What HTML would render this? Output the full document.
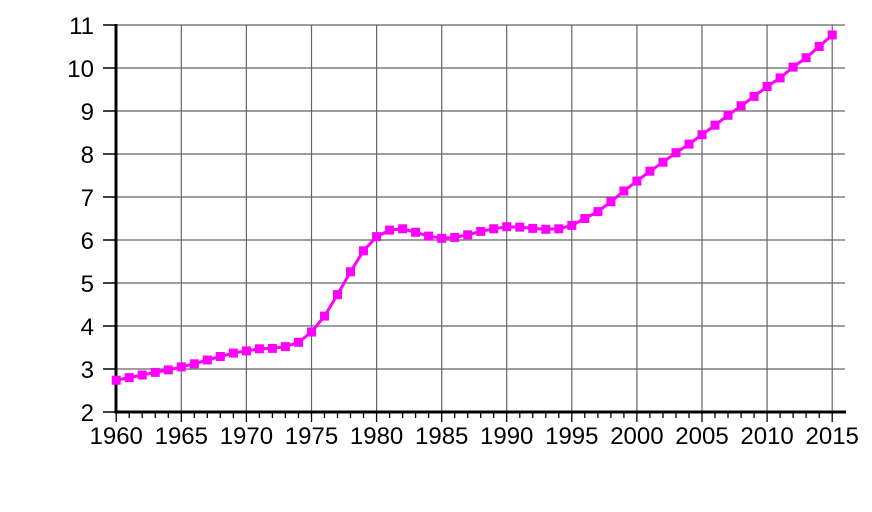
<!DOCTYPE html>
<html>
<head>
<meta charset="utf-8">
<style>
html,body{margin:0;padding:0;background:#fff;}
svg{display:block;}
text{font-family:"Liberation Sans",Arial,sans-serif;font-size:24px;fill:#000;}
</style>
</head>
<body>
<svg width="872" height="512" viewBox="0 0 872 512" xmlns="http://www.w3.org/2000/svg">
<rect width="872" height="512" fill="#fff"/>
<g stroke="#666" stroke-width="1.2">
<line x1="116" y1="25" x2="845" y2="25"/>
<line x1="116" y1="68" x2="845" y2="68"/>
<line x1="116" y1="111" x2="845" y2="111"/>
<line x1="116" y1="154" x2="845" y2="154"/>
<line x1="116" y1="197" x2="845" y2="197"/>
<line x1="116" y1="240" x2="845" y2="240"/>
<line x1="116" y1="283" x2="845" y2="283"/>
<line x1="116" y1="326" x2="845" y2="326"/>
<line x1="116" y1="369" x2="845" y2="369"/>
<line x1="181.3" y1="25" x2="181.3" y2="412"/>
<line x1="246.4" y1="25" x2="246.4" y2="412"/>
<line x1="311.5" y1="25" x2="311.5" y2="412"/>
<line x1="376.6" y1="25" x2="376.6" y2="412"/>
<line x1="441.7" y1="25" x2="441.7" y2="412"/>
<line x1="506.7" y1="25" x2="506.7" y2="412"/>
<line x1="571.8" y1="25" x2="571.8" y2="412"/>
<line x1="636.9" y1="25" x2="636.9" y2="412"/>
<line x1="702.0" y1="25" x2="702.0" y2="412"/>
<line x1="767.1" y1="25" x2="767.1" y2="412"/>
<line x1="832.2" y1="25" x2="832.2" y2="412"/>
</g>
<g stroke="#000" stroke-width="1.5">
<path d="M103 25h13M103 68h13M103 111h13M103 154h13M103 197h13M103 240h13M103 283h13M103 326h13M103 369h13M103 412h13"/>
</g>
<g stroke="#000" stroke-width="1.3">
<path d="M129.2 412v6M142.2 412v6M155.3 412v6M168.3 412v6M194.3 412v6M207.3 412v6M220.3 412v6M233.4 412v6M259.4 412v6M272.4 412v6M285.4 412v6M298.5 412v6M324.5 412v6M337.5 412v6M350.5 412v6M363.5 412v6M389.6 412v6M402.6 412v6M415.6 412v6M428.6 412v6M454.7 412v6M467.7 412v6M480.7 412v6M493.7 412v6M519.8 412v6M532.8 412v6M545.8 412v6M558.8 412v6M584.8 412v6M597.9 412v6M610.9 412v6M623.9 412v6M649.9 412v6M663.0 412v6M676.0 412v6M689.0 412v6M715.0 412v6M728.0 412v6M741.1 412v6M754.1 412v6M780.1 412v6M793.1 412v6M806.1 412v6M819.2 412v6"/>
<path d="M116.2 412v10M181.3 412v10M246.4 412v10M311.5 412v10M376.6 412v10M441.7 412v10M506.7 412v10M571.8 412v10M636.9 412v10M702.0 412v10M767.1 412v10M832.2 412v10"/>
</g>
<line x1="116" y1="24" x2="116" y2="413.5" stroke="#000" stroke-width="3"/>
<line x1="114.5" y1="412" x2="846" y2="412" stroke="#000" stroke-width="3"/>
<g text-anchor="end">
<text x="94" y="34">11</text>
<text x="94" y="77">10</text>
<text x="94" y="120">9</text>
<text x="94" y="163">8</text>
<text x="94" y="206">7</text>
<text x="94" y="249">6</text>
<text x="94" y="292">5</text>
<text x="94" y="335">4</text>
<text x="94" y="378">3</text>
<text x="94" y="421">2</text>
</g>
<g text-anchor="middle">
<text x="116.2" y="444">1960</text>
<text x="181.3" y="444">1965</text>
<text x="246.4" y="444">1970</text>
<text x="311.5" y="444">1975</text>
<text x="376.6" y="444">1980</text>
<text x="441.7" y="444">1985</text>
<text x="506.7" y="444">1990</text>
<text x="571.8" y="444">1995</text>
<text x="636.9" y="444">2000</text>
<text x="702.0" y="444">2005</text>
<text x="767.1" y="444">2010</text>
<text x="832.2" y="444">2015</text>
</g>
<polyline fill="none" stroke="#ff00ff" stroke-width="3" stroke-linejoin="round" points="116.2,380.2 129.2,377.6 142.2,375.0 155.3,372.4 168.3,369.9 181.3,366.9 194.3,363.8 207.3,360.0 220.3,356.5 233.4,353.1 246.4,350.9 259.4,348.8 272.4,348.4 285.4,346.6 298.5,342.3 311.5,332.0 324.5,316.1 337.5,294.6 350.5,271.8 363.5,250.8 376.6,236.6 389.6,230.1 402.6,228.8 415.6,232.3 428.6,236.1 441.7,238.3 454.7,237.4 467.7,234.8 480.7,231.4 493.7,228.8 506.7,226.7 519.8,227.1 532.8,228.4 545.8,229.3 558.8,228.8 571.8,225.4 584.8,218.5 597.9,211.6 610.9,201.7 623.9,191.0 636.9,181.1 649.9,171.2 663.0,162.2 676.0,152.7 689.0,144.1 702.0,134.7 715.0,125.2 728.0,115.3 741.1,105.8 754.1,96.4 767.1,86.5 780.1,77.9 793.1,67.1 806.1,57.7 819.2,46.5 832.2,34.9"/>
<g fill="#ff00ff">
<rect x="111.7" y="375.7" width="9" height="9"/>
<rect x="124.7" y="373.1" width="9" height="9"/>
<rect x="137.7" y="370.5" width="9" height="9"/>
<rect x="150.8" y="367.9" width="9" height="9"/>
<rect x="163.8" y="365.4" width="9" height="9"/>
<rect x="176.8" y="362.4" width="9" height="9"/>
<rect x="189.8" y="359.3" width="9" height="9"/>
<rect x="202.8" y="355.5" width="9" height="9"/>
<rect x="215.8" y="352.0" width="9" height="9"/>
<rect x="228.9" y="348.6" width="9" height="9"/>
<rect x="241.9" y="346.4" width="9" height="9"/>
<rect x="254.9" y="344.3" width="9" height="9"/>
<rect x="267.9" y="343.9" width="9" height="9"/>
<rect x="280.9" y="342.1" width="9" height="9"/>
<rect x="294.0" y="337.8" width="9" height="9"/>
<rect x="307.0" y="327.5" width="9" height="9"/>
<rect x="320.0" y="311.6" width="9" height="9"/>
<rect x="333.0" y="290.1" width="9" height="9"/>
<rect x="346.0" y="267.3" width="9" height="9"/>
<rect x="359.0" y="246.3" width="9" height="9"/>
<rect x="372.1" y="232.1" width="9" height="9"/>
<rect x="385.1" y="225.6" width="9" height="9"/>
<rect x="398.1" y="224.3" width="9" height="9"/>
<rect x="411.1" y="227.8" width="9" height="9"/>
<rect x="424.1" y="231.6" width="9" height="9"/>
<rect x="437.2" y="233.8" width="9" height="9"/>
<rect x="450.2" y="232.9" width="9" height="9"/>
<rect x="463.2" y="230.3" width="9" height="9"/>
<rect x="476.2" y="226.9" width="9" height="9"/>
<rect x="489.2" y="224.3" width="9" height="9"/>
<rect x="502.2" y="222.2" width="9" height="9"/>
<rect x="515.3" y="222.6" width="9" height="9"/>
<rect x="528.3" y="223.9" width="9" height="9"/>
<rect x="541.3" y="224.8" width="9" height="9"/>
<rect x="554.3" y="224.3" width="9" height="9"/>
<rect x="567.3" y="220.9" width="9" height="9"/>
<rect x="580.3" y="214.0" width="9" height="9"/>
<rect x="593.4" y="207.1" width="9" height="9"/>
<rect x="606.4" y="197.2" width="9" height="9"/>
<rect x="619.4" y="186.5" width="9" height="9"/>
<rect x="632.4" y="176.6" width="9" height="9"/>
<rect x="645.4" y="166.7" width="9" height="9"/>
<rect x="658.5" y="157.7" width="9" height="9"/>
<rect x="671.5" y="148.2" width="9" height="9"/>
<rect x="684.5" y="139.6" width="9" height="9"/>
<rect x="697.5" y="130.2" width="9" height="9"/>
<rect x="710.5" y="120.7" width="9" height="9"/>
<rect x="723.5" y="110.8" width="9" height="9"/>
<rect x="736.6" y="101.3" width="9" height="9"/>
<rect x="749.6" y="91.9" width="9" height="9"/>
<rect x="762.6" y="82.0" width="9" height="9"/>
<rect x="775.6" y="73.4" width="9" height="9"/>
<rect x="788.6" y="62.6" width="9" height="9"/>
<rect x="801.6" y="53.2" width="9" height="9"/>
<rect x="814.7" y="42.0" width="9" height="9"/>
<rect x="827.7" y="30.4" width="9" height="9"/>
</g>
</svg>
</body>
</html>
